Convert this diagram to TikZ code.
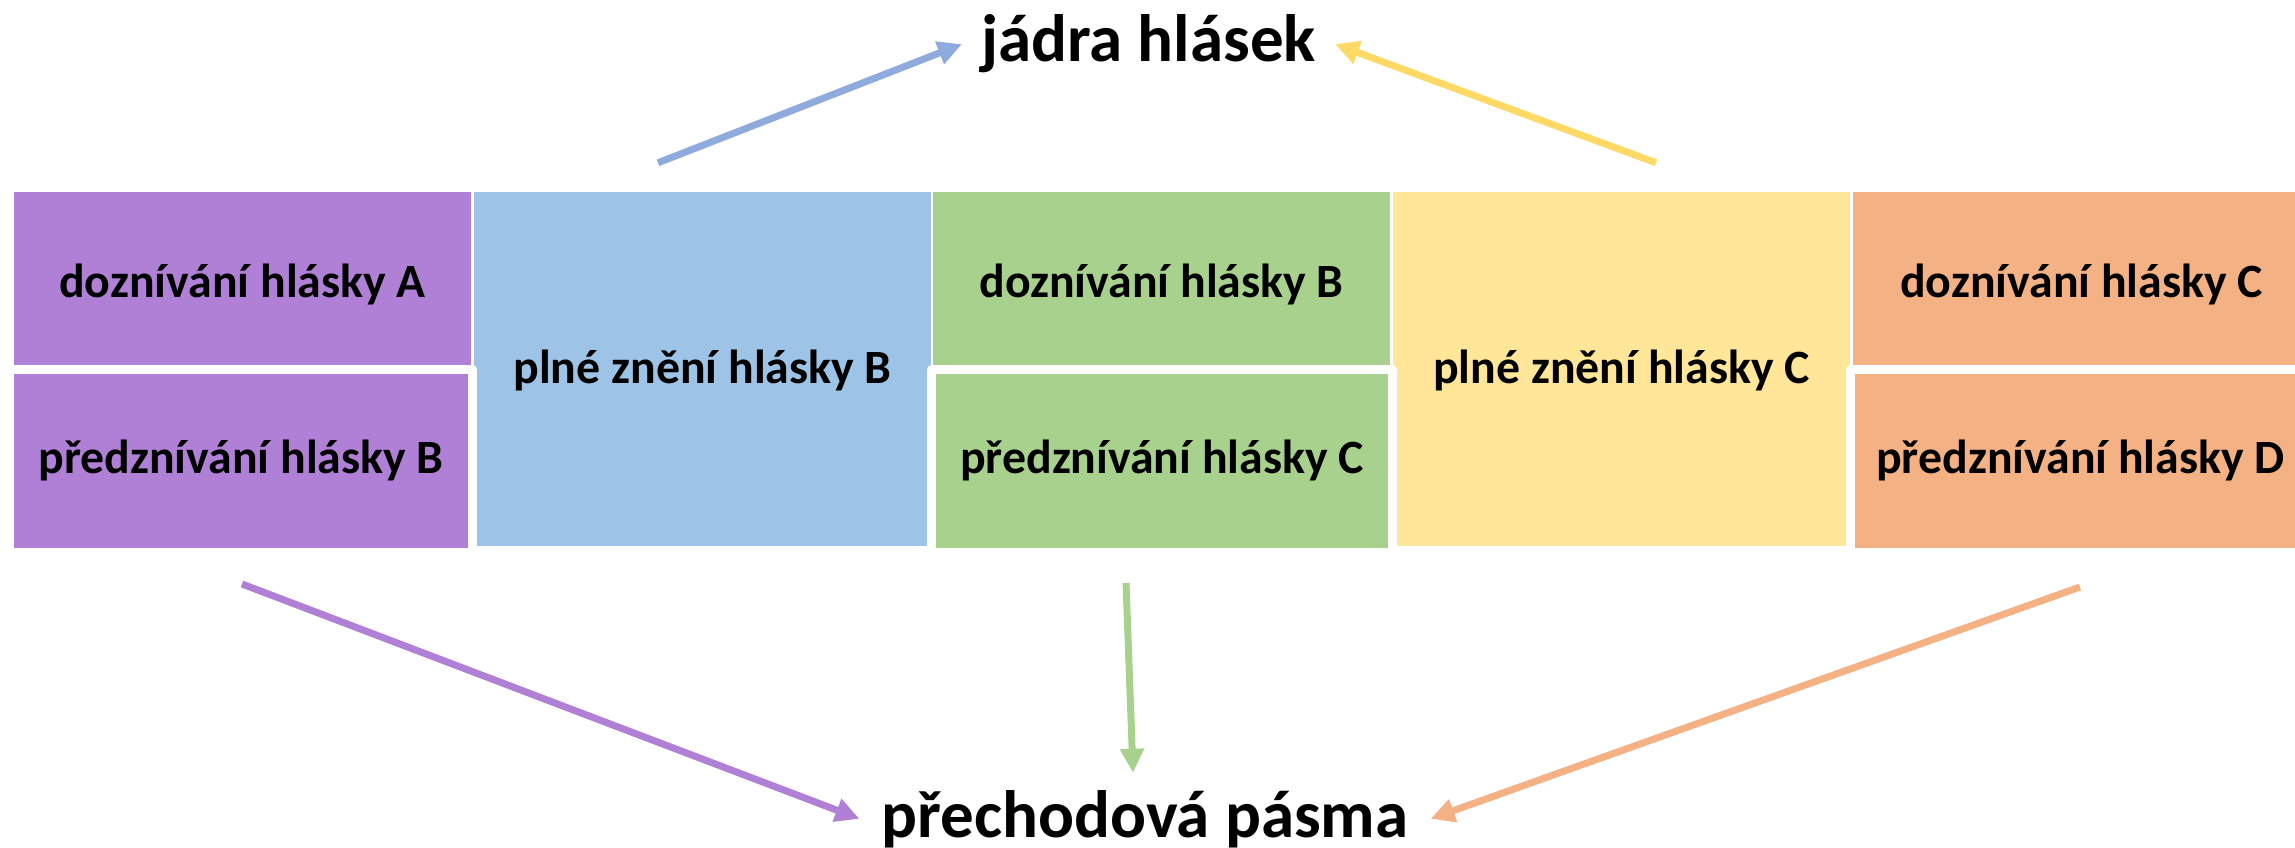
\documentclass[tikz,border=0pt]{standalone}
\usepackage{fontspec}
\setmainfont{Carlito}
\usetikzlibrary{arrows.meta}
\definecolor{fialova}{HTML}{B07FD6}
\definecolor{modra}{HTML}{9DC3E6}
\definecolor{modraS}{HTML}{8FAADC}
\definecolor{zelena}{HTML}{A9D18E}
\definecolor{zluta}{HTML}{FFE699}
\definecolor{zlutaS}{HTML}{FFD966}
\definecolor{oranzova}{HTML}{F4B183}
\begin{document}
\begin{tikzpicture}[x=1pt, y=-1pt, line join=round,
		box/.style={fill=#1, minimum height=174pt, minimum width=457pt, inner sep=0pt, text height=36pt, text depth=0pt, font=\fontsize{47.8}{57}\selectfont\bfseries},
		tallbox/.style={box=#1, minimum height=354pt, text height=28pt},
		lowbox/.style={box=#1, draw=white, line width=9pt, minimum height=183pt, text height=24pt},
		arr/.style={line width=7pt, -{Triangle[length=24pt,width=23pt]}},
		title/.style={font=\fontsize{67}{80}\selectfont\bfseries, inner ysep=0pt, inner xsep=19pt, anchor=base}]
	\useasboundingbox (0,0) rectangle (2295,848);
	% horni rada a plna zneni
	\node[box=fialova] (dA) at (242.5,279) {doznívání hlásky A};
	\node[tallbox=modra] (plB) at (702.5,369) {plné znění hlásky B};
	\node[box=zelena] (dB) at (1161.5,279) {doznívání hlásky B};
	\node[tallbox=zluta] (plC) at (1621.5,369) {plné znění hlásky C};
	\node[box=oranzova] (dC) at (2081.5,279) {doznívání hlásky C};
	% dolni rada
	\node[lowbox=fialova, minimum width=463pt] (pB) at (241,461) {předznívání hlásky B};
	\node[lowbox=zelena, minimum width=461pt] (pC) at (1162,461) {předznívání hlásky C};
	\node[lowbox=oranzova, minimum width=460pt] (pD) at (2080.5,461) {předznívání hlásky D};
	% popisky
	\node[title] (jadra) at (1148.5,62) {jádra hlásek};
	\node[title, inner xsep=22pt] (prech) at (1145,837) {přechodová pásma};
	% sipky
	\draw[arr, modraS] ([shift={(-44.5,-29)}]plB.north) -- (jadra.west);
	\draw[arr, zlutaS] ([shift={(34.5,-29)}]plC.north) -- (jadra.east);
	\draw[arr, fialova] ([shift={(1,27)}]pB.south) -- (prech.west);
	\draw[arr, zelena] ([shift={(-36,26)}]pC.south) -- ([shift={(-12,-17)}]prech.north);
	\draw[arr, oranzova] ([shift={(-0.5,30)}]pD.south) -- (prech.east);
\end{tikzpicture}
\end{document}
